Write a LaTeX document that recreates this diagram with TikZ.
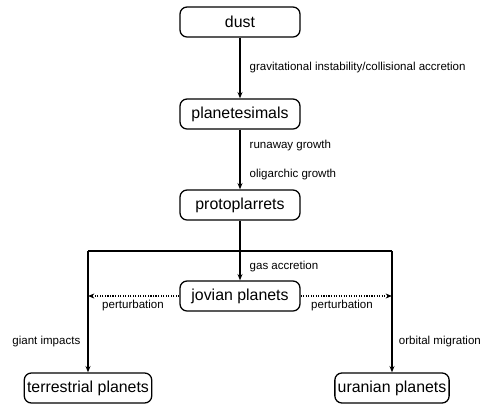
\documentclass[tikz,border=0pt]{standalone}
\usepackage{fontspec}
\setmainfont{Liberation Sans}
\usetikzlibrary{arrows.meta}
\tikzset{
  stage/.style={draw, line width=0.9pt, rounded corners=5pt, minimum height=0.75cm,
                inner sep=2pt, font=\fontsize{11.3}{13}\selectfont},
  wide/.style={stage, minimum width=3cm},
  lbl/.style={font=\fontsize{8.2}{9.5}\selectfont, inner sep=1pt},
  flow/.style={line width=0.8pt, -{Stealth[length=4.5pt, width=3.5pt]}}
}
\begin{document}
\begin{tikzpicture}
    \useasboundingbox (0, 0) rectangle (12.025, -10.125);
    \node[wide] (dust) at (6, -0.55) {dust};
    \node[wide] (ptsm) at (6, -2.85) {planetesimals};
    \node[wide] (prot) at (6, -5.125) {protoplarrets};
    \node[wide] (jov) at (6, -7.4) {jovian planets};
    \node[stage] (terr) at (2.2, -9.7) {terrestrial planets};
    \node[stage] (uran) at (9.8, -9.7) {uranian planets};
    \coordinate (tl) at (2.2, -6.275);
    \coordinate (tr) at (9.8, -6.275);

    \draw[flow] (dust) -- (ptsm);
    \draw[flow] (ptsm) -- (prot);
    \draw[flow] (prot) -- (jov);
    \draw[line width=0.8pt] (tl) -- (tr);
    \draw[flow] (tl) -- (terr);
    \draw[flow] (tr) -- (uran);
    \draw[flow, densely dotted] (jov.west) -- (jov.west -| tl);
    \draw[flow, densely dotted] (jov.east) -- (jov.east -| tr);

    \node[lbl, anchor=west] (l1) at (6.2, -1.7) {gravitational instability/collisional accretion};
    \node[lbl, anchor=west] (l2) at (6.2, -3.65) {runaway growth};
    \node[lbl, anchor=west] (l3) at (6.2, -4.375) {oligarchic growth};
    \node[lbl, anchor=west] (l4) at (6.2, -6.675) {gas accretion};
    \node[lbl] (l5) at (3.325, -7.65) {perturbation};
    \node[lbl] (l6) at (8.55, -7.65) {perturbation};
    \node[lbl, anchor=east] (l7) at (2.05, -8.55) {giant impacts};
    \node[lbl, anchor=west] (l8) at (9.93, -8.55) {orbital migration};
\end{tikzpicture}
\end{document}
